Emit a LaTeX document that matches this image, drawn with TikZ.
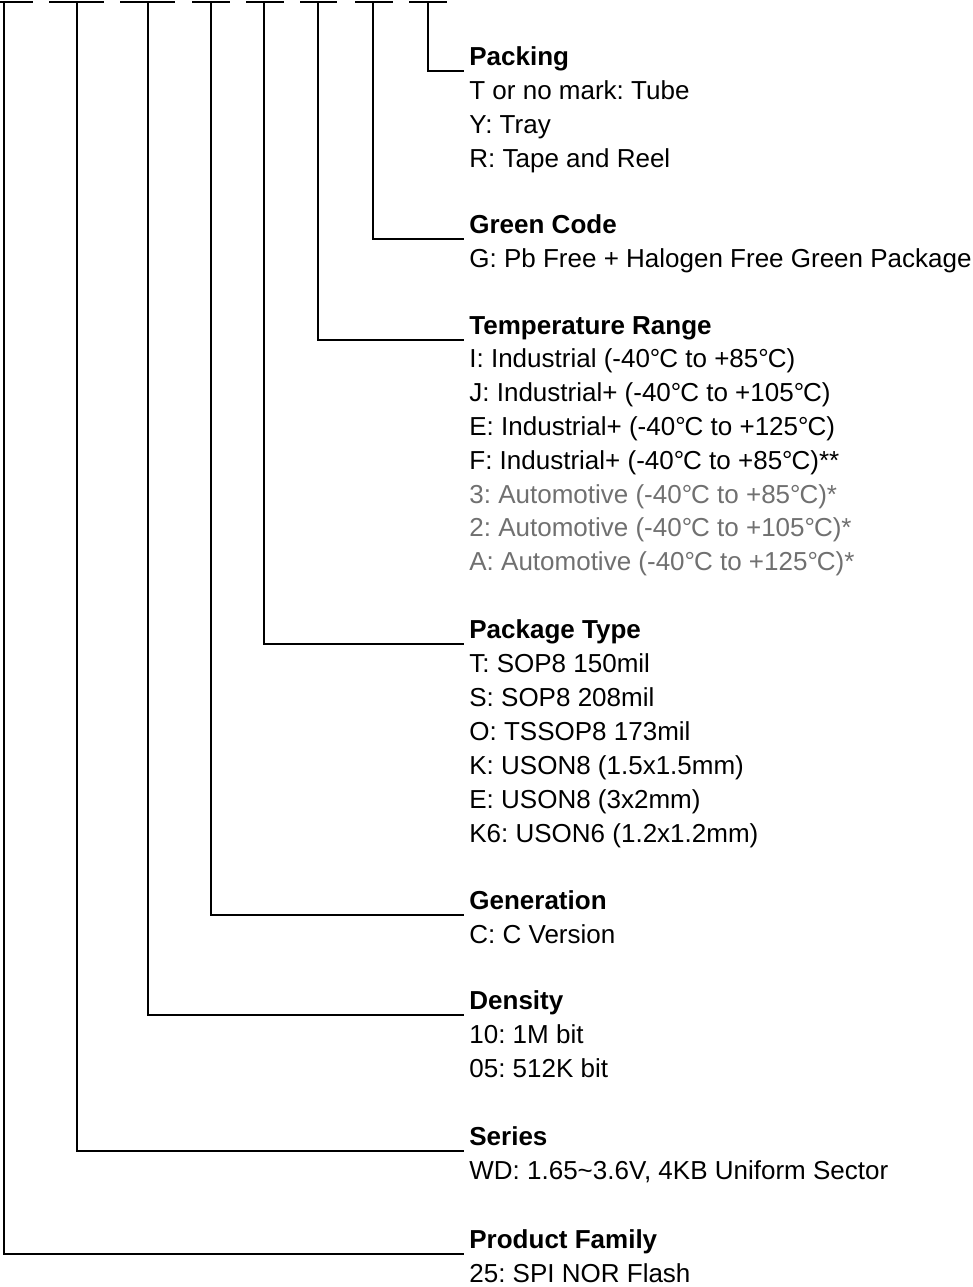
\documentclass[tikz,border=0pt]{standalone}
\usepackage{fontspec}
\setmainfont{Liberation Sans}
\usepackage{tikz}
\frenchspacing
\definecolor{autogray}{RGB}{112,112,112}
\newcommand{\dgc}{°\kern-0.04em C}
\tikzset{
  head/.style={anchor=base west, inner xsep=2.5pt, inner ysep=0pt, text depth=3pt, font=\fontsize{13}{16}\selectfont\bfseries},
  entry/.style={anchor=base west, inner xsep=2.5pt, inner ysep=0pt},
  lead/.style={line width=1pt},
}

\begin{document}
\begin{tikzpicture}[x=0.5pt,y=-0.5pt,font=\fontsize{13}{16}\selectfont]
\useasboundingbox (0,0) rectangle (973,1287);
% Part number fields
\foreach \a/\b in {0/33,49/104,120/175,192/230,246/284,300/337,355/393,409/447}
  \draw[lead] (\a,2) -- (\b,2);
\foreach \x [count=\i] in {4,77,148,211,264,318,373,428}
  \coordinate (p\i) at (\x,2);
% Packing
\node[head] (packing) at (464,65) {Packing};
\foreach \t [count=\i] in {T or no mark: Tube, Y: Tray, R: Tape and Reel}
  \node[entry] (packing\i) at (464,65+34*\i) {\t};
% Green code
\node[head] (green) at (464,233) {Green Code};
\node[entry] (green1) at (464,267) {G: Pb Free + Halogen Free Green Package};
% Temperature range
\node[head] (temp) at (464,334) {Temperature Range};
\foreach \c/\t [count=\i] in {black/I: Industrial (-40\dgc{} to +85\dgc),
    black/J: Industrial+ (-40\dgc{} to +105\dgc),
    black/E: Industrial+ (-40\dgc{} to +125\dgc),
    black/F: Industrial+ (-40\dgc{} to +85\dgc)**,
    autogray/3: Automotive (-40\dgc{} to +85\dgc)*,
    autogray/2: Automotive (-40\dgc{} to +105\dgc)*,
    autogray/A: Automotive (-40\dgc{} to +125\dgc)*}
  \node[entry,text=\c] (temp\i) at (464,334+33.8*\i) {\t};
% Package type
\node[head] (pkgtype) at (464,638) {Package Type};
\foreach \t [count=\i] in {T: SOP8 150mil, S: SOP8 208mil, O: TSSOP8 173mil,
    K: USON8 (1.5x1.5mm), E: USON8 (3x2mm), K6: USON6 (1.2x1.2mm)}
  \node[entry] (pkgtype\i) at (464,638+34*\i) {\t};
% Generation
\node[head] (generation) at (464,909) {Generation};
\node[entry] (generation1) at (464,943) {C: C Version};
% Density
\node[head] (density) at (464,1009) {Density};
\node[entry] (density1) at (464,1043) {10: 1M bit};
\node[entry] (density2) at (464,1077) {05: 512K bit};
% Series
\node[head] (series) at (464,1145) {Series};
\node[entry] (series1) at (464,1179) {WD: 1.65\textasciitilde 3.6V, 4KB Uniform Sector};
% Product family
\node[head] (family) at (464,1248) {Product Family};
\node[entry] (family1) at (464,1282) {25: SPI NOR Flash};
% Leaders
\draw[lead] (p8) |- (packing.south west);
\draw[lead] (p7) |- (green.south west);
\draw[lead] (p6) |- (temp.south west);
\draw[lead] (p5) |- (pkgtype.south west);
\draw[lead] (p4) |- (generation.south west);
\draw[lead] (p3) |- (density.south west);
\draw[lead] (p2) |- (series.south west);
\draw[lead] (p1) |- (family.south west);
\end{tikzpicture}
\end{document}
